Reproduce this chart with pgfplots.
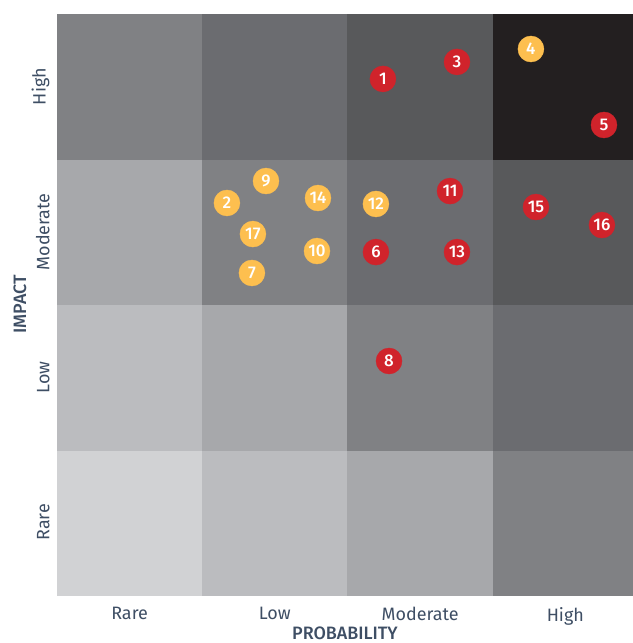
\documentclass[border=0pt]{standalone}
\usepackage{fontspec}
\setmainfont{Fira Sans}
\newfontfamily\medfont{Fira Sans Medium}
\usepackage{pgfplots}
\pgfplotsset{compat=1.18}
\definecolor{lbl}{HTML}{3E4E64}
\definecolor{riskred}{HTML}{D0232B}
\definecolor{riskyel}{HTML}{FDBF4F}

% cells: column centre, row centre, level (0 = lightest)
\pgfplotstableread{
x y c
0.5 0.5 0
1.5 0.5 1
2.5 0.5 2
3.5 0.5 3
0.5 1.5 1
1.5 1.5 2
2.5 1.5 3
3.5 1.5 4
0.5 2.5 2
1.5 2.5 3
2.5 2.5 4
3.5 2.5 5
0.5 3.5 3
1.5 3.5 4
2.5 3.5 5
3.5 3.5 6
}\cells

\pgfplotstableread{
x y n
2.244 3.553 1
2.754 3.670 3
3.766 3.236 5
2.706 2.781 11
2.196 2.361 6
2.754 2.361 13
3.298 2.671 15
3.752 2.547 16
2.286 1.611 8
}\reds

\pgfplotstableread{
x y n
3.263 3.759 4
2.196 2.692 12
1.439 2.850 9
1.170 2.699 2
1.349 2.485 17
1.342 2.217 7
1.797 2.733 14
1.790 2.368 10
}\yellows

\pgfplotsset{
  risk dots/.style={only marks, mark=*, mark size=13bp, color=#1,
    mark options={fill=#1, draw=#1},
    point meta=explicit symbolic, nodes near coords, nodes near coords align=center,
    every node near coord/.append style={font=\medfont\fontsize{17}{18}\selectfont, text=white, anchor=center}},
}

\begin{document}
\begin{tikzpicture}
\begin{axis}[
  scale only axis,
  width=576bp, height=581bp,
  xmin=0, xmax=3.966, ymin=0, ymax=4,
  axis line style={draw=none},
  major tick length=0pt,
  xtick={0.5,1.5,2.5,3.5},
  ytick={0.5,1.5,2.5,3.5},
  xticklabels={Rare,Low,Moderate,High},
  yticklabels={Rare,Low,Moderate,High},
  ticklabel style={font=\fontsize{18}{20}\selectfont, text=lbl},
  xticklabel style={yshift=-9bp},
  yticklabel style={rotate=90, anchor=south, yshift=4bp},
  xlabel={PROBABILITY},
  ylabel={IMPACT},
  label style={font=\medfont\fontsize{18}{20}\selectfont, text=lbl},
  xlabel style={at={(axis description cs:0.5,-0.0762)}, anchor=base},
  ylabel style={at={(axis description cs:-0.0642,0.5)}, anchor=center},
  colormap={risk}{rgb255=(209,210,212) rgb255=(187,188,191) rgb255=(167,168,171) rgb255=(128,129,132) rgb255=(107,108,112) rgb255=(88,89,91) rgb255=(35,31,32)},
  colormap access=direct,
  clip=true,
]
\addplot[matrix plot*, mesh/cols=4, point meta=explicit, draw=none] table[x=x, y=y, meta=c] {\cells};
\addplot[risk dots=riskred] table[x=x, y=y, meta=n] {\reds};
\addplot[risk dots=riskyel] table[x=x, y=y, meta=n] {\yellows};
\end{axis}
\pgfresetboundingbox
\path[use as bounding box] (current axis.south west) ++(-57bp,-48bp) rectangle ([yshift=14bp]current axis.north east);
\end{tikzpicture}
\end{document}
